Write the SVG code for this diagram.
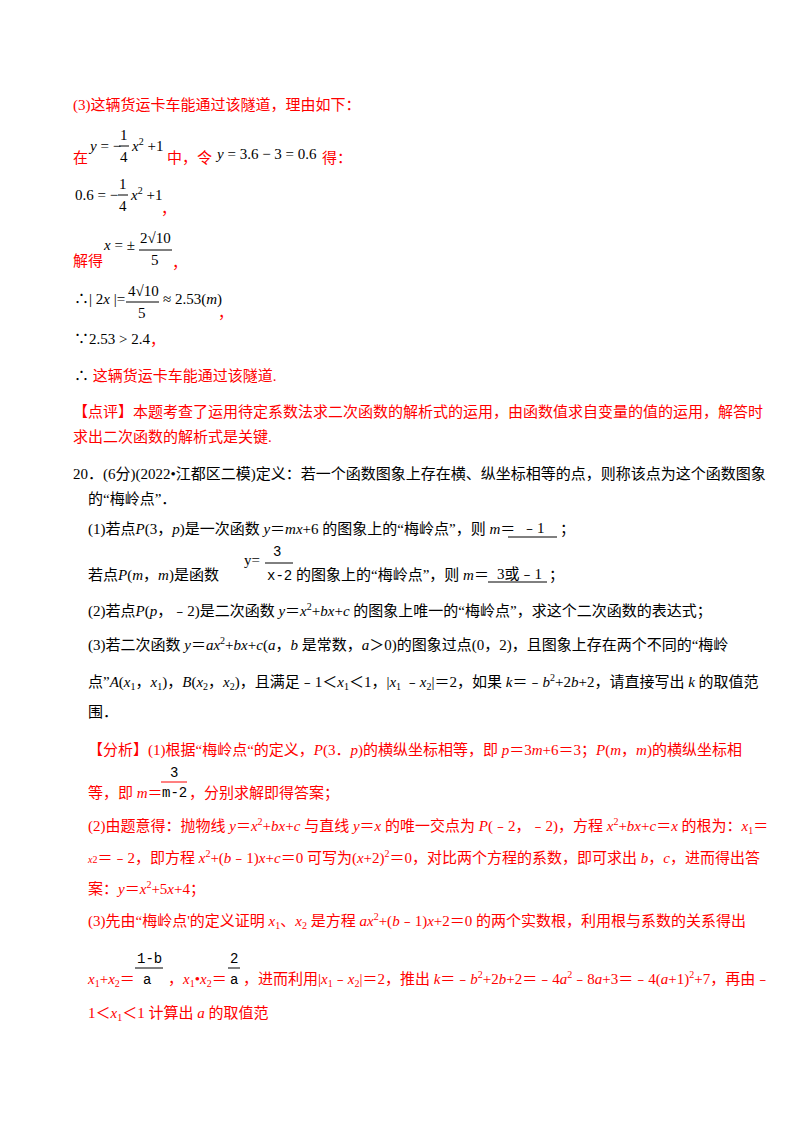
<svg xmlns="http://www.w3.org/2000/svg" width="800" height="1132" viewBox="0 0 800 1132">
<style>
text{font-family:"Liberation Serif","Noto Sans CJK SC",serif;font-size:15px;fill:#000}
.r{fill:#ff0000}
.i{font-style:italic}
.s{font-size:10px}
.m{font-family:"Liberation Mono","Noto Sans CJK SC",monospace;font-size:14px}
line{stroke:#000;stroke-width:1}
.rl{stroke:#ff0000}
</style>
<rect width="800" height="1132" fill="#fff"/>
<text x="73" y="110" class="r">(3)这辆货运卡车能通过该隧道，理由如下：</text>
<text x="73" y="163" class="r">在</text>
<text x="90" y="151"><tspan class="i">y</tspan> = −</text>
<text x="120" y="140">1</text><line x1="119" y1="146" x2="129" y2="146"/><text x="120" y="162">4</text>
<text x="132" y="151"><tspan class="i">x</tspan><tspan class="s" dy="-6">2</tspan><tspan dy="6"> +1</tspan></text>
<text x="167" y="163" class="r">中，令</text>
<text x="217" y="159"><tspan class="i">y</tspan> = 3.6 − 3 = 0.6</text>
<text x="322" y="163" class="r">得：</text>
<text x="75" y="200">0.6 = −</text>
<text x="119" y="189">1</text><line x1="118" y1="195" x2="128" y2="195"/><text x="119" y="211">4</text>
<text x="131" y="200"><tspan class="i">x</tspan><tspan class="s" dy="-6">2</tspan><tspan dy="6"> +1</tspan></text>
<text x="161" y="214" class="r">，</text>
<text x="73" y="266" class="r">解得</text>
<text x="104" y="250"><tspan class="i">x</tspan> = ±</text>
<text x="140" y="243">2√10</text><line x1="139" y1="250" x2="172" y2="250"/><text x="151" y="265">5</text>
<text x="172" y="268" class="r">，</text>
<text x="74" y="304">∴| 2<tspan class="i">x</tspan> |=</text>
<text x="128" y="296">4√10</text><line x1="126" y1="302" x2="159" y2="302"/><text x="138" y="318">5</text>
<text x="163" y="304">≈ 2.53(<tspan class="i">m</tspan>)</text>
<text x="218" y="318" class="r">，</text>
<text x="74" y="344">∵2.53 &gt; 2.4</text>
<text x="150" y="345" class="r">，</text>
<text x="74" y="381">∴ <tspan class="r">这辆货运卡车能通过该隧道.</tspan></text>
<text x="73" y="417" class="r">【点评】本题考查了运用待定系数法求二次函数的解析式的运用，由函数值求自变量的值的运用，解答时</text>
<text x="73" y="442" class="r">求出二次函数的解析式是关键.</text>
<text x="73" y="479">20．(6分)(2022•江都区二模)定义：若一个函数图象上存在横、纵坐标相等的点，则称该点为这个函数图象</text>
<text x="88" y="504">的“梅岭点”．</text>
<text x="88" y="534">(1)若点<tspan class="i">P</tspan>(3，<tspan class="i">p</tspan>)是一次函数 <tspan class="i">y</tspan>＝<tspan class="i">mx</tspan>+6 的图象上的“梅岭点”，则 <tspan class="i">m</tspan>＝</text>
<line x1="508" y1="537" x2="557" y2="537"/>
<text x="522" y="533">﹣1</text>
<text x="560" y="534">；</text>
<text x="88" y="580">若点<tspan class="i">P</tspan>(<tspan class="i">m</tspan>，<tspan class="i">m</tspan>)是函数</text>
<text x="244" y="565" font-size="17">y=</text>
<text x="273" y="556" class="m">3</text><line x1="265" y1="563" x2="293" y2="563"/><text x="267" y="580" class="m">x-2</text>
<text x="296" y="580">的图象上的“梅岭点”，则 <tspan class="i">m</tspan>＝</text>
<text x="497" y="579">3或﹣1</text>
<line x1="488" y1="582" x2="547" y2="582"/>
<text x="549" y="580">；</text>
<text x="88" y="616">(2)若点<tspan class="i">P</tspan>(<tspan class="i">p</tspan>，﹣2)是二次函数 <tspan class="i">y</tspan>＝<tspan class="i">x</tspan><tspan class="s" dy="-6">2</tspan><tspan dy="6">+</tspan><tspan class="i">bx</tspan>+<tspan class="i">c</tspan> 的图象上唯一的“梅岭点”，求这个二次函数的表达式；</text>
<text x="88" y="650">(3)若二次函数 <tspan class="i">y</tspan>＝<tspan class="i">ax</tspan><tspan class="s" dy="-6">2</tspan><tspan dy="6">+</tspan><tspan class="i">bx</tspan>+<tspan class="i">c</tspan>(<tspan class="i">a</tspan>，<tspan class="i">b</tspan> 是常数，<tspan class="i">a</tspan>＞0)的图象过点(0，2)，且图象上存在两个不同的“梅岭</text>
<text x="88" y="687">点”<tspan class="i">A</tspan>(<tspan class="i">x</tspan><tspan class="s" dy="3">1</tspan><tspan dy="-3">，</tspan><tspan class="i">x</tspan><tspan class="s" dy="3">1</tspan><tspan dy="-3">)，</tspan><tspan class="i">B</tspan>(<tspan class="i">x</tspan><tspan class="s" dy="3">2</tspan><tspan dy="-3">，</tspan><tspan class="i">x</tspan><tspan class="s" dy="3">2</tspan><tspan dy="-3">)，且满足﹣1＜</tspan><tspan class="i">x</tspan><tspan class="s" dy="3">1</tspan><tspan dy="-3">＜1，|</tspan><tspan class="i">x</tspan><tspan class="s" dy="3">1</tspan><tspan dy="-3"> ﹣</tspan><tspan class="i">x</tspan><tspan class="s" dy="3">2</tspan><tspan dy="-3">|＝2，如果 </tspan><tspan class="i">k</tspan>＝﹣<tspan class="i">b</tspan><tspan class="s" dy="-6">2</tspan><tspan dy="6">+2</tspan><tspan class="i">b</tspan>+2，请直接写出 <tspan class="i">k</tspan> 的取值范</text>
<text x="88" y="717">围．</text>
<text x="88" y="755" class="r">【分析】(1)根据“梅岭点“的定义，<tspan class="i">P</tspan>(3．<tspan class="i">p</tspan>)的横纵坐标相等，即 <tspan class="i">p</tspan>＝3<tspan class="i">m</tspan>+6＝3；<tspan class="i">P</tspan>(<tspan class="i">m</tspan>，<tspan class="i">m</tspan>)的横纵坐标相</text>
<text x="88" y="798" class="r">等，即 <tspan class="i">m</tspan>＝</text>
<text x="170" y="777" class="m">3</text><line x1="161" y1="782" x2="187" y2="782" class="rl"/><text x="162" y="797" class="m">m-2</text>
<text x="189" y="798" class="r">，分别求解即得答案；</text>
<text x="88" y="831" class="r">(2)由题意得：抛物线 <tspan class="i">y</tspan>＝<tspan class="i">x</tspan><tspan class="s" dy="-6">2</tspan><tspan dy="6">+</tspan><tspan class="i">bx</tspan>+<tspan class="i">c</tspan> 与直线 <tspan class="i">y</tspan>＝<tspan class="i">x</tspan> 的唯一交点为 <tspan class="i">P</tspan>(﹣2，﹣2)，方程 <tspan class="i">x</tspan><tspan class="s" dy="-6">2</tspan><tspan dy="6">+</tspan><tspan class="i">bx</tspan>+<tspan class="i">c</tspan>＝<tspan class="i">x</tspan> 的根为：<tspan class="i">x</tspan><tspan class="s" dy="3">1</tspan><tspan dy="-3">＝</tspan></text>
<text x="88" y="863" class="r"><tspan class="i s">x</tspan><tspan class="s">2</tspan>＝﹣2，即方程 <tspan class="i">x</tspan><tspan class="s" dy="-6">2</tspan><tspan dy="6">+(</tspan><tspan class="i">b</tspan>﹣1)<tspan class="i">x</tspan>+<tspan class="i">c</tspan>＝0 可写为(<tspan class="i">x</tspan>+2)<tspan class="s" dy="-6">2</tspan><tspan dy="6">＝0，对比两个方程的系数，即可求出 </tspan><tspan class="i">b</tspan>，<tspan class="i">c</tspan>，进而得出答</text>
<text x="88" y="894" class="r">案：<tspan class="i">y</tspan>＝<tspan class="i">x</tspan><tspan class="s" dy="-6">2</tspan><tspan dy="6">+5</tspan><tspan class="i">x</tspan>+4；</text>
<text x="88" y="926" class="r">(3)先由“梅岭点'的定义证明 <tspan class="i">x</tspan><tspan class="s" dy="3">1</tspan><tspan dy="-3">、</tspan><tspan class="i">x</tspan><tspan class="s" dy="3">2</tspan><tspan dy="-3"> 是方程 </tspan><tspan class="i">ax</tspan><tspan class="s" dy="-6">2</tspan><tspan dy="6">+(</tspan><tspan class="i">b</tspan>﹣1)<tspan class="i">x</tspan>+2＝0 的两个实数根，利用根与系数的关系得出</text>
<text x="88" y="984" class="r"><tspan class="i">x</tspan><tspan class="s" dy="3">1</tspan><tspan dy="-3">+</tspan><tspan class="i">x</tspan><tspan class="s" dy="3">2</tspan><tspan dy="-3">＝</tspan></text>
<text x="137" y="963" class="m">1-b</text><line x1="135" y1="968" x2="163" y2="968"/><text x="143" y="984" class="m">a</text>
<text x="168" y="984" class="r">，<tspan class="i">x</tspan><tspan class="s" dy="3">1</tspan><tspan dy="-3">•</tspan><tspan class="i">x</tspan><tspan class="s" dy="3">2</tspan><tspan dy="-3">＝</tspan></text>
<text x="230" y="963" class="m">2</text><line x1="228" y1="968" x2="240" y2="968"/><text x="230" y="984" class="m">a</text>
<text x="243" y="984" class="r">，进而利用|<tspan class="i">x</tspan><tspan class="s" dy="3">1</tspan><tspan dy="-3">﹣</tspan><tspan class="i">x</tspan><tspan class="s" dy="3">2</tspan><tspan dy="-3">|＝2，推出 </tspan><tspan class="i">k</tspan>＝﹣<tspan class="i">b</tspan><tspan class="s" dy="-6">2</tspan><tspan dy="6">+2</tspan><tspan class="i">b</tspan>+2＝﹣4<tspan class="i">a</tspan><tspan class="s" dy="-6">2</tspan><tspan dy="6">﹣8</tspan><tspan class="i">a</tspan>+3＝﹣4(<tspan class="i">a</tspan>+1)<tspan class="s" dy="-6">2</tspan><tspan dy="6">+7，再由﹣</tspan></text>
<text x="88" y="1018" class="r">1＜<tspan class="i">x</tspan><tspan class="s" dy="3">1</tspan><tspan dy="-3">＜1 计算出 </tspan><tspan class="i">a</tspan> 的取值范</text>
</svg>
